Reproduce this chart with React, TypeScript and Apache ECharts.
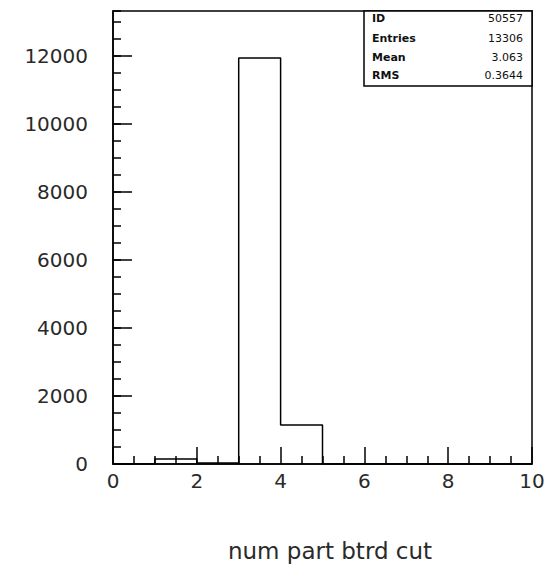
import React, { useEffect, useRef } from "react";
import * as echarts from "echarts";

// Histogram bin left edges and contents (bin width 1)
const binEdges: number[] = [0, 1, 2, 3, 4, 5, 6, 7, 8, 9, 10];
const binCounts: number[] = [0, 150, 30, 11950, 1150, 0, 0, 0, 0, 0];

const xTickLabels: string[] = ["0", "2", "4", "6", "8", "10"];
const yTickLabels: string[] = ["0", "2000", "4000", "6000", "8000", "10000", "12000"];

const statNames: string[] = ["ID", "Entries", "Mean", "RMS"];
const statValues: string[] = ["50557", "13306", "3.063", "0.3644"];

const xTitle = "num part btrd cut";

export default function App() {
  const ref = useRef<HTMLDivElement>(null);
  useEffect(() => {
    if (!ref.current) return;
    const chart = echarts.init(ref.current, null, { renderer: "svg" });
    const stepData: [number, number][] = [];
    for (let i = 0; i < binCounts.length; i++) stepData.push([binEdges[i], binCounts[i]]);
    stepData.push([binEdges[binEdges.length - 1], 0]);

    const gridLeft = 113, gridTop = 11, gridRight = 18, gridBottom = 105;
    const W = 550;
    const plotRight = W - gridRight;

    const statTexts: any[] = [];
    const rowY = [20, 40, 59, 77];
    statNames.forEach((n, i) => {
      statTexts.push({
        type: "text", x: 372, y: rowY[i] - 7,
        style: { text: n, font: "bold 11px 'DejaVu Sans'", fill: "#111" },
      });
      statTexts.push({
        type: "text", x: 523, y: rowY[i] - 7,
        style: { text: statValues[i], font: "11px 'DejaVu Sans'", fill: "#111", textAlign: "right" },
      });
    });

    chart.setOption({
      animation: false,
      backgroundColor: "#fff",
      grid: {
        left: gridLeft, top: gridTop, right: gridRight, bottom: gridBottom,
        show: true, borderColor: "#000", borderWidth: 1.5, backgroundColor: "transparent",
      },
      xAxis: {
        type: "value", min: 0, max: 10, interval: 2,
        axisLine: { show: true, lineStyle: { color: "#000", width: 1.5 } },
        axisTick: { show: true, inside: true, length: 17, lineStyle: { color: "#000", width: 1.5 } },
        minorTick: { show: true, splitNumber: 4, length: 8, lineStyle: { color: "#000", width: 1.5 } },
        splitLine: { show: false },
        axisLabel: {
          margin: 7, fontSize: 20, fontFamily: "DejaVu Sans", color: "#2a2a2a",
          formatter: (v: number) => (xTickLabels.includes(String(v)) ? String(v) : ""),
        },
      },
      yAxis: [
        {
          type: "value", min: 0, max: 13330, interval: 2000,
          axisLine: { show: true, lineStyle: { color: "#000", width: 1.5 } },
          axisTick: { show: true, inside: true, length: 19, lineStyle: { color: "#000", width: 1.5 } },
          splitLine: { show: false },
          axisLabel: {
            margin: 25, fontSize: 20, fontFamily: "DejaVu Sans", color: "#2a2a2a",
            showMaxLabel: false,
            formatter: (v: number) => (yTickLabels.includes(String(v)) ? String(v) : ""),
          },
        },
        {
          type: "value", min: 0, max: 13330, interval: 500, position: "left", offset: 0,
          axisLine: { show: false },
          axisTick: { show: true, inside: true, length: 8, lineStyle: { color: "#000", width: 1.5 } },
          splitLine: { show: false },
          axisLabel: { show: false },
        },
      ],
      series: [
        {
          type: "line", step: "end", data: stepData, yAxisIndex: 0,
          symbol: "none", lineStyle: { color: "#000", width: 1.5 },
        },
      ],
      graphic: [
        {
          type: "rect", shape: { x: 364, y: gridTop, width: plotRight - 364, height: 75 },
          style: { fill: "#fff", stroke: "#000", lineWidth: 1.5 },
        },
        ...statTexts,
        {
          type: "text", x: 330, y: 539,
          style: { text: xTitle, font: "23px 'DejaVu Sans'", fill: "#2a2a2a", textAlign: "center" },
        },
      ],
    });
    return () => chart.dispose();
  }, []);
  return (
    <div
      ref={ref}
      style={{ position: "fixed", left: 0, top: 0, width: 550, height: 569 }}
    />
  );
}
